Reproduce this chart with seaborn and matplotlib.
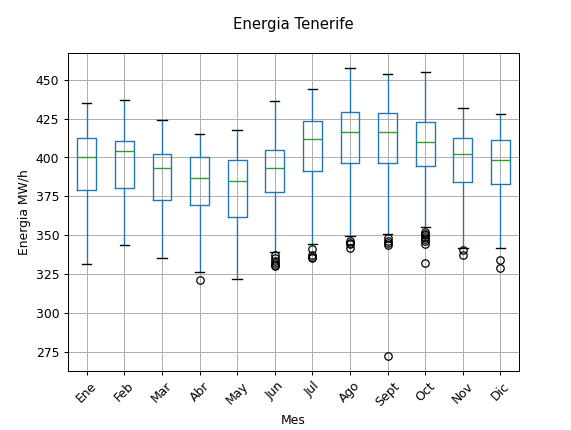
import pandas as pd
import seaborn as sns
import matplotlib.pyplot as plt

## Month labels...
meses = ["Ene", "Feb", "Mar", "Abr", "May", "Jun", "Jul", "Ago", "Sept", "Oct", "Nov", "Dic"]

## Box stats (lower whisker, q1, median, q3, upper whisker)...
bigote_inf = [331.5, 343.5, 335.0, 326.4, 322.0, 338.8, 344.0, 349.5, 350.5, 355.0, 342.0, 341.5]
q1 = [379.0, 380.2, 372.3, 369.5, 361.6, 377.7, 391.6, 396.6, 396.6, 394.8, 384.1, 383.0]
mediana = [400.6, 404.3, 393.3, 386.7, 384.8, 393.3, 412.0, 416.1, 416.1, 409.9, 402.1, 398.5]
q3 = [412.4, 410.5, 402.3, 400.2, 398.3, 404.7, 423.4, 429.6, 428.5, 422.8, 412.4, 411.0]
bigote_sup = [435.0, 437.0, 424.0, 415.4, 417.4, 436.5, 444.2, 457.9, 454.0, 455.2, 431.8, 427.9]

## Outliers per month...
atipicos = [
    [],
    [],
    [],
    [320.8],
    [],
    [337.0, 335.0, 333.0, 332.0, 331.0, 330.0],
    [341.2, 337.0, 336.0, 335.0],
    [346.5, 345.0, 344.0, 341.5],
    [348.0, 346.5, 345.0, 343.5, 272.0],
    [352.0, 351.0, 350.0, 349.0, 347.5, 346.0, 344.5, 332.0],
    [340.5, 337.5],
    [334.0, 328.5],
]


def muestras(outs, lo, a, m, b, hi):
    ## Build a small sample whose quartiles / whiskers give exactly these stats...
    k = len(outs) + 1
    return sorted(outs) + [lo] + [a] * k + [m] * k + [b] * k + [hi]


filas = []
for i, mes in enumerate(meses):
    vals = muestras(atipicos[i], bigote_inf[i], q1[i], mediana[i], q3[i], bigote_sup[i])
    filas += [(mes, v) for v in vals]
df = pd.DataFrame(filas, columns=["Mes", "Energia"])

fig = plt.figure(figsize=(6.4, 4.82), dpi=89.25)
ax = fig.add_axes([0.119, 0.138, 0.79, 0.738])

sns.boxplot(
    data=df, x="Mes", y="Energia", order=meses, ax=ax,
    fill=False, color="#1f77b4", width=0.5, linewidth=1.1,
    medianprops={"color": "#2ca02c"},
    whiskerprops={"color": "#1f77b4"},
    capprops={"color": "black"},
    flierprops={"marker": "o", "markeredgecolor": "black", "markerfacecolor": "none", "markersize": 6},
)

ax.grid(True)
ax.set_axisbelow(True)
ax.set_xlabel("Mes")
ax.set_ylabel("Energia MW/h")
ax.tick_params(axis="x", rotation=45)
## Title centred over the axes, not the figure...
fig.suptitle("Energia Tenerife", x=0.514, y=0.96)

fig.savefig("out.png", dpi=89.25)
